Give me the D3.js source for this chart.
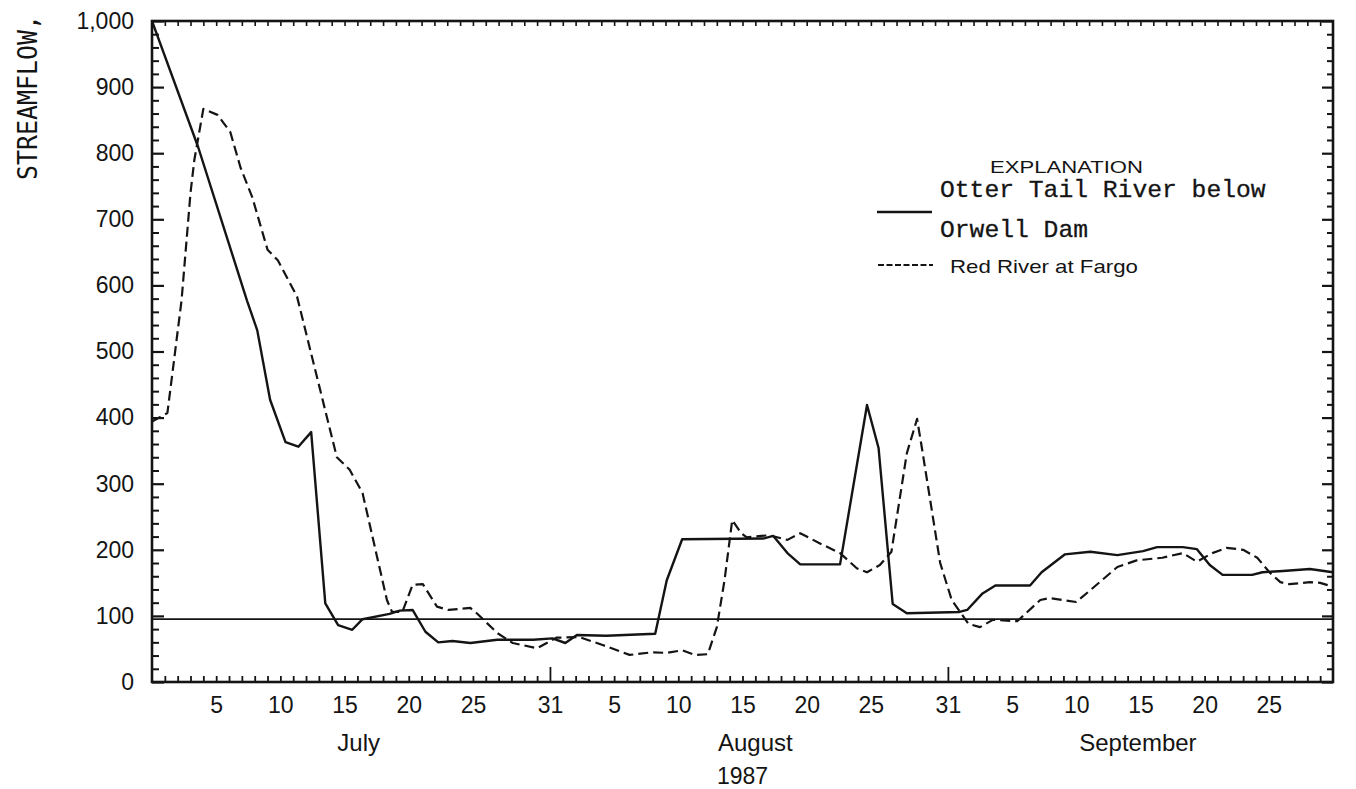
<!DOCTYPE html>
<html><head><meta charset="utf-8">
<script src="https://cdn.jsdelivr.net/npm/d3@7"></script>
<style>body{margin:0;background:#fff}</style>
</head><body>
<svg id="chart" width="1356" height="789" xmlns="http://www.w3.org/2000/svg"></svg>
<script>
// Day of season: 1 = July 1 ... 92 = September 30 (positions)
const otterDay  = [0, 3.6, 7.4, 8.2, 9.2, 10.4, 11.4, 12.4, 13.5, 14.5, 15.6, 16.4, 18.5, 19.3, 20.3, 21.3, 22.3, 23.4, 24.8, 26.9, 29.7, 31.2, 32.2, 33.1, 35.4, 39.2, 40.1, 41.3, 47.6, 48.4, 49.5, 50.5, 53.6, 55.7, 56.6, 57.7, 58.8, 62.9, 63.5, 64.7, 65.7, 68.4, 69.3, 71.1, 73.1, 75.2, 77.2, 78.3, 80.3, 81.4, 82.4, 83.4, 85.7, 86.5, 88.1, 90.2, 92];
const otterFlow = [1000, 809, 577, 532, 427, 363, 356, 378, 119, 86, 79, 95, 103, 108, 109, 76, 60, 62, 59, 64, 64, 66, 59, 71, 70, 73, 154, 216, 217, 221, 195, 178, 178, 419, 354, 118, 104, 106, 109, 134, 146, 146, 166, 193, 197, 192, 198, 204, 204, 201, 177, 162, 162, 166, 168, 171, 166];

const redDay  = [0, 1.2, 2.3, 3.0, 3.3, 4.0, 5.1, 6.1, 6.9, 7.8, 9.0, 9.8, 11.3, 14.4, 15.4, 16.4, 18.3, 18.7, 19.5, 20.3, 21.1, 22.2, 23.1, 24.8, 25.3, 26.9, 28.1, 30.0, 31.5, 33.3, 35.1, 37.2, 39.0, 40.1, 41.3, 42.3, 43.3, 44.0, 44.6, 45.2, 45.9, 46.3, 48.1, 49.5, 50.5, 52.0, 53.6, 54.9, 55.7, 56.7, 57.6, 58.8, 59.6, 60.0, 61.4, 62.3, 63.6, 64.5, 65.5, 67.4, 69.2, 69.9, 72.0, 73.1, 75.2, 76.7, 78.7, 80.3, 81.4, 82.6, 83.7, 85.0, 86.1, 87.1, 87.9, 88.6, 90.2, 91.0, 92];
const redFlow = [394, 407, 577, 740, 790, 867, 858, 832, 778, 734, 654, 638, 583, 340, 321, 286, 124, 106, 106, 147, 148, 114, 109, 112, 104, 74, 59, 51, 67, 68, 56, 41, 45, 44, 48, 41, 42, 83, 154, 245, 225, 219, 222, 215, 225, 210, 195, 172, 166, 177, 197, 346, 398, 351, 180, 124, 88, 83, 94, 92, 124, 127, 121, 139, 174, 184, 188, 195, 182, 195, 203, 200, 188, 165, 151, 148, 151, 150, 144];

const referenceFlow = 95;

const dayTicks = [5, 10, 15, 20, 25, 31, 36, 41, 46, 51, 56, 62, 67, 72, 77, 82, 87];
const dayTickLabels = ["5", "10", "15", "20", "25", "31", "5", "10", "15", "20", "25", "31", "5", "10", "15", "20", "25"];
const monthEnds = [31, 62];
const monthDays = [16.1, 47.0, 76.8];
const monthLabels = ["July", "August", "September"];
const yearDay = 46.0;
const yearLabel = "1987";

const yTicks = [0, 100, 200, 300, 400, 500, 600, 700, 800, 900, 1000];
const yTickLabels = ["0", "100", "200", "300", "400", "500", "600", "700", "800", "900", "1,000"];
const yMinorTicks = d3.range(20, 1000, 20).filter(v => v % 100 !== 0);

const yTitle = "STREAMFLOW,";
const legendTitle = "EXPLANATION";
const legendOtter = ["Otter Tail River below", "Orwell Dam"];
const legendRed = "Red River at Fargo";

const ink = "#141414";
const sans = "'Liberation Sans', Arial, Helvetica, sans-serif";

const svg = d3.select("#chart");
const x = d3.scaleLinear().domain([0, 92]).range([152, 1333]);
const y = d3.scaleLinear().domain([0, 1000]).range([682, 21]);

svg.append("defs").append("clipPath").attr("id", "plotclip")
  .append("rect").attr("x", x(0)).attr("y", y(1000))
  .attr("width", x(92) - x(0)).attr("height", y(0) - y(1000));

function styleTicks(g, w) {
  g.select(".domain").remove();
  g.selectAll(".tick line").attr("stroke", ink).attr("stroke-width", w);
}

// minor/major ticks
const dayMinor = d3.range(1, 92).filter(d => !monthEnds.includes(d));
svg.append("g").attr("transform", `translate(0,${y(0)})`)
  .call(d3.axisBottom(x).tickValues(dayMinor).tickSize(-6).tickFormat(""))
  .call(g => styleTicks(g, 1.8));
svg.append("g").attr("transform", `translate(0,${y(0)})`)
  .call(d3.axisBottom(x).tickValues(monthEnds).tickSize(-15).tickFormat(""))
  .call(g => styleTicks(g, 1.8));
svg.append("g").attr("transform", `translate(0,${y(1000)})`)
  .call(d3.axisTop(x).tickValues(d3.range(1, 92)).tickSize(-5).tickFormat(""))
  .call(g => styleTicks(g, 1.6));

svg.append("g").attr("transform", `translate(${x(0)},0)`)
  .call(d3.axisLeft(y).tickValues(yMinorTicks).tickSize(-7).tickFormat(""))
  .call(g => styleTicks(g, 2));
svg.append("g").attr("transform", `translate(${x(0)},0)`)
  .call(d3.axisLeft(y).tickValues(yTicks).tickSize(-12).tickFormat(""))
  .call(g => styleTicks(g, 2.2));
svg.append("g").attr("transform", `translate(${x(92)},0)`)
  .call(d3.axisRight(y).tickValues(yMinorTicks).tickSize(-6).tickFormat(""))
  .call(g => styleTicks(g, 2));
svg.append("g").attr("transform", `translate(${x(92)},0)`)
  .call(d3.axisRight(y).tickValues(yTicks).tickSize(-11).tickFormat(""))
  .call(g => styleTicks(g, 2.2));

// frame
svg.append("rect").attr("x", x(0)).attr("y", y(1000))
  .attr("width", x(92) - x(0)).attr("height", y(0) - y(1000))
  .attr("fill", "none").attr("stroke", ink).attr("stroke-width", 2.6);

// tick labels
svg.append("g").attr("transform", `translate(0,${y(0)})`)
  .call(d3.axisBottom(x).tickValues(dayTicks).tickSize(0).tickPadding(15)
    .tickFormat((d, i) => dayTickLabels[i]))
  .call(g => { g.select(".domain").remove(); g.selectAll("line").remove(); })
  .selectAll("text").attr("font-family", sans).attr("font-size", 23).attr("fill", ink);

svg.append("g").attr("transform", `translate(${x(0)},0)`)
  .call(d3.axisLeft(y).tickValues(yTicks).tickSize(0).tickPadding(18)
    .tickFormat((d, i) => yTickLabels[i]))
  .call(g => { g.select(".domain").remove(); g.selectAll("line").remove(); })
  .selectAll("text").attr("font-family", sans).attr("font-size", 23).attr("fill", ink);

// month / year labels
svg.append("g").selectAll("text").data(monthLabels).join("text")
  .attr("x", (d, i) => x(monthDays[i])).attr("y", 751)
  .attr("text-anchor", "middle").attr("font-family", sans).attr("font-size", 24)
  .attr("fill", ink).text(d => d);
svg.append("text").attr("x", x(yearDay)).attr("y", 784)
  .attr("text-anchor", "middle").attr("font-family", sans).attr("font-size", 23)
  .attr("fill", ink).text(yearLabel);

// y title
svg.append("text").attr("transform", "translate(37,97.5) rotate(-90)")
  .attr("text-anchor", "middle").attr("font-family", "'DejaVu Sans Mono', monospace")
  .attr("font-size", 26).attr("textLength", 165).attr("lengthAdjust", "spacingAndGlyphs")
  .attr("fill", ink).text(yTitle);

// series
const plot = svg.append("g").attr("clip-path", "url(#plotclip)");
const line = d3.line().x(d => x(d[0])).y(d => y(d[1]));

plot.append("line")
  .attr("x1", x(0)).attr("x2", x(92))
  .attr("y1", y(referenceFlow)).attr("y2", y(referenceFlow))
  .attr("stroke", ink).attr("stroke-width", 1.7);

plot.append("path").datum(d3.zip(otterDay, otterFlow))
  .attr("d", line).attr("fill", "none").attr("stroke", ink)
  .attr("stroke-width", 2.4).attr("stroke-linejoin", "round");

plot.append("path").datum(d3.zip(redDay, redFlow))
  .attr("d", line).attr("fill", "none").attr("stroke", ink)
  .attr("stroke-width", 2.2).attr("stroke-dasharray", "10,5").attr("stroke-linejoin", "round");

// legend
const lg = svg.append("g");
lg.append("text").attr("x", 990).attr("y", 173)
  .attr("font-family", sans).attr("font-size", 17)
  .attr("textLength", 153).attr("lengthAdjust", "spacingAndGlyphs")
  .attr("fill", ink).text(legendTitle);
lg.append("line").attr("x1", 877).attr("x2", 932).attr("y1", 212).attr("y2", 212)
  .attr("stroke", ink).attr("stroke-width", 2.6);
lg.selectAll("text.mono").data(legendOtter).join("text").attr("class", "mono")
  .attr("x", 940).attr("y", (d, i) => 197 + i * 40)
  .attr("font-family", "'Liberation Mono', 'Courier New', monospace").attr("font-size", 24)
  .attr("textLength", (d) => d.length * 14.8).attr("lengthAdjust", "spacingAndGlyphs")
  .attr("fill", ink).attr("stroke", ink).attr("stroke-width", 0.3).text(d => d);
lg.append("line").attr("x1", 878).attr("x2", 933).attr("y1", 265).attr("y2", 265)
  .attr("stroke", ink).attr("stroke-width", 2.2).attr("stroke-dasharray", "6,2.5");
lg.append("text").attr("x", 950).attr("y", 273)
  .attr("font-family", sans).attr("font-size", 19)
  .attr("textLength", 188).attr("lengthAdjust", "spacingAndGlyphs")
  .attr("fill", ink).text(legendRed);
</script>
</body></html>
